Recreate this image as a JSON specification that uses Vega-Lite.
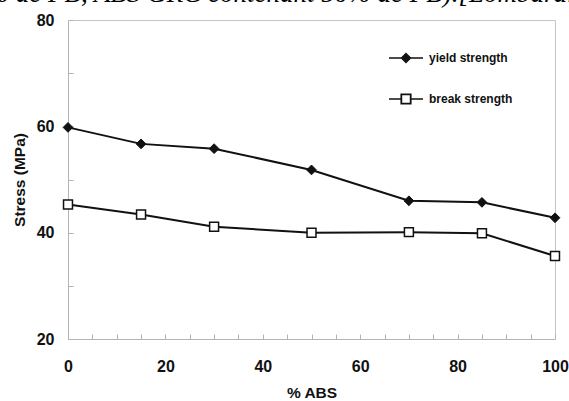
{
  "$schema": "https://vega.github.io/schema/vega-lite/v6.json",
  "width": 487,
  "height": 319,
  "autosize": {"type": "none"},
  "padding": {"left": 68, "top": 20, "right": 14, "bottom": 62},
  "background": "white",
  "title": {
    "text": "0% de PB, ABS GRC contenant 50% de PB).[Lombardi",
    "anchor": "start",
    "orient": "top",
    "frame": "group",
    "font": "Liberation Serif",
    "fontStyle": "italic",
    "fontWeight": "normal",
    "fontSize": 27,
    "color": "#000000",
    "baseline": "alphabetic",
    "offset": 0,
    "dy": 17,
    "dx": -95
  },
  "config": {
    "view": {"stroke": "#c4c4c4", "strokeWidth": 1},
    "axis": {
      "grid": false,
      "domainColor": "#b4b4b4",
      "tickColor": "#b4b4b4",
      "labelFont": "Liberation Sans",
      "labelFontWeight": "bold",
      "labelFontSize": 16,
      "labelColor": "#111111",
      "titleFont": "Liberation Sans",
      "titleFontWeight": "bold",
      "titleFontSize": 15.5,
      "titleColor": "#111111"
    }
  },
  "data": {
    "values": [
      {"abs": 0, "stress": 59.8, "series": "yield strength"},
      {"abs": 15, "stress": 56.7, "series": "yield strength"},
      {"abs": 30, "stress": 55.8, "series": "yield strength"},
      {"abs": 50, "stress": 51.8, "series": "yield strength"},
      {"abs": 70, "stress": 46.0, "series": "yield strength"},
      {"abs": 85, "stress": 45.7, "series": "yield strength"},
      {"abs": 100, "stress": 42.8, "series": "yield strength"},
      {"abs": 0, "stress": 45.3, "series": "break strength"},
      {"abs": 15, "stress": 43.4, "series": "break strength"},
      {"abs": 30, "stress": 41.1, "series": "break strength"},
      {"abs": 50, "stress": 40.0, "series": "break strength"},
      {"abs": 70, "stress": 40.1, "series": "break strength"},
      {"abs": 85, "stress": 39.9, "series": "break strength"},
      {"abs": 100, "stress": 35.6, "series": "break strength"}
    ]
  },
  "encoding": {
    "x": {
      "field": "abs",
      "type": "quantitative",
      "title": "% ABS",
      "scale": {"domain": [0, 100], "nice": false},
      "axis": {
        "values": [0,5,10,15,20,25,30,35,40,45,50,55,60,65,70,75,80,85,90,95,100],
        "labelExpr": "datum.value % 20 === 0 ? datum.label : ''",
        "tickSize": -5,
        "labelPadding": 24,
        "titlePadding": 11,
        "labelFlush": false
      }
    },
    "y": {
      "field": "stress",
      "type": "quantitative",
      "title": "Stress (MPa)",
      "scale": {"domain": [20, 80], "nice": false},
      "axis": {
        "values": [20,30,40,50,60,70,80],
        "labelExpr": "datum.value % 20 === 0 ? datum.label : ''",
        "tickSize": -5,
        "labelPadding": 19,
        "titlePadding": 9,
        "labelFlush": false
      }
    }
  },
  "layer": [
    {
      "mark": {"type": "line", "color": "#111111", "strokeWidth": 2},
      "encoding": {"detail": {"field": "series"}}
    },
    {
      "transform": [{"filter": "datum.series === 'yield strength'"}],
      "mark": {"type": "point", "shape": "diamond", "filled": true, "fill": "#111111", "stroke": "#111111", "strokeWidth": 1, "opacity": 1, "size": 95}
    },
    {
      "transform": [{"filter": "datum.series === 'break strength'"}],
      "mark": {"type": "point", "shape": "square", "filled": true, "fill": "#ffffff", "stroke": "#111111", "strokeWidth": 1.5, "opacity": 1, "size": 80}
    },
    {
      "transform": [{"filter": "datum.abs < 0"}],
      "mark": {"type": "point", "filled": true, "fill": "#111111", "stroke": "#111111", "strokeWidth": 1.3, "opacity": 1},
      "encoding": {
        "shape": {
          "field": "series",
          "type": "nominal",
          "scale": {"domain": ["yield strength", "break strength"], "range": ["M-1,0H1M0,-0.27L0.27,0L0,0.27L-0.27,0Z", "M-1,0H-0.29M0.29,0H1M-0.29,-0.29H0.29V0.29H-0.29ZM-0.26,-0.26V0.26H0.26V-0.26Z"]},
          "legend": {
            "title": null,
            "orient": "none",
            "legendX": 320,
            "legendY": 20,
            "padding": 0,
            "symbolSize": 1156,
            "symbolOpacity": 1,
            "symbolStrokeWidth": 1.3,
            "rowPadding": 15,
            "labelOffset": 5,
            "labelFont": "Liberation Sans",
            "labelFontWeight": "bold",
            "labelFontSize": 12,
            "labelColor": "#111111"
          }
        }
      }
    }
  ]
}
